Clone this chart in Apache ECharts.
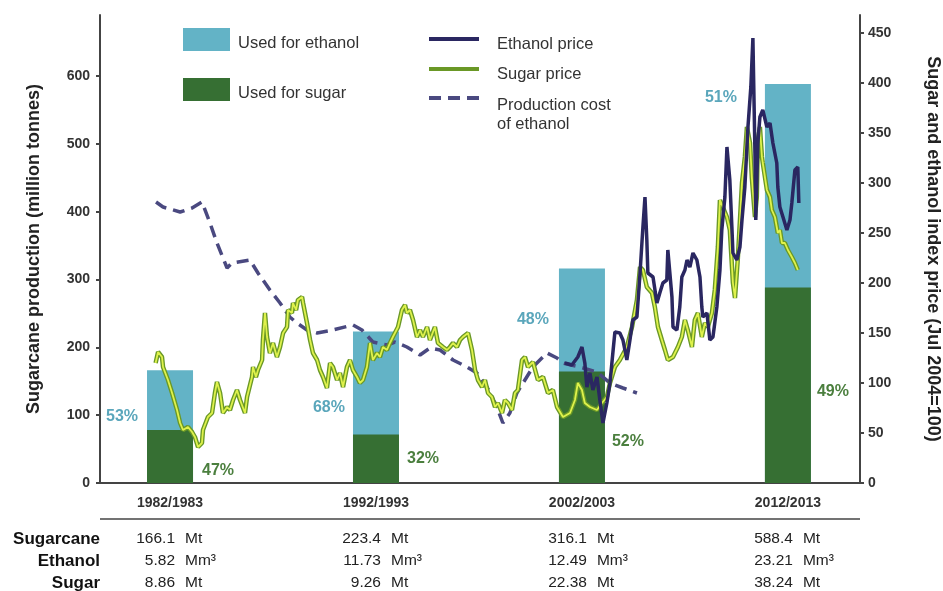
<!DOCTYPE html>
<html>
<head>
<meta charset="utf-8">
<title>Sugarcane production and prices</title>
<script src="https://cdn.jsdelivr.net/npm/echarts@6/dist/echarts.min.js"></script>
<style>
  html, body { margin: 0; padding: 0; background: #fff; }
  #chart { width: 943px; height: 591px; }
</style>
</head>
<body>
<div id="chart"></div>
<script>
// harvest seasons shown as bars
const periods = ['1982/1983', '1992/1993', '2002/2003', '2012/2013']
const periodYears = [1983, 1993, 2003, 2013]
const sugarcaneMt = ['166.1', '223.4', '316.1', '588.4']
const ethanolMm3 = ['5.82', '11.73', '12.49', '23.21']
const sugarMt = ['8.86', '9.26', '22.38', '38.24']
const ethanolSharePct = [53, 68, 48, 51]
const sugarSharePct = [47, 32, 52, 49]

// index prices (Jul 2004 = 100), [year, index]
const sugarPrice = [
  [1982.30, 120], [1982.42, 131], [1982.61, 126], [1982.66, 116], [1982.90, 103], [1983.10, 90],
  [1983.34, 73], [1983.49, 60], [1983.63, 53], [1983.87, 56], [1984.07, 51], [1984.21, 46],
  [1984.36, 36], [1984.55, 40], [1984.60, 53], [1984.84, 66], [1985.04, 70], [1985.18, 90],
  [1985.28, 101], [1985.43, 90], [1985.57, 70], [1985.77, 76], [1985.91, 73], [1986.06, 83],
  [1986.25, 93], [1986.40, 83], [1986.64, 70], [1986.74, 86], [1986.98, 106], [1987.03, 116],
  [1987.17, 106], [1987.27, 113], [1987.47, 123], [1987.51, 143], [1987.61, 170], [1987.71, 146],
  [1987.85, 130], [1988.00, 140], [1988.19, 126], [1988.34, 136], [1988.49, 150], [1988.68, 156],
  [1988.73, 173], [1988.92, 170], [1988.97, 180], [1989.12, 173], [1989.21, 183], [1989.41, 186],
  [1989.46, 180], [1989.65, 160], [1989.80, 143], [1989.94, 130], [1990.14, 123], [1990.28, 113],
  [1990.43, 106], [1990.62, 95], [1990.77, 120], [1990.91, 116], [1991.11, 103], [1991.25, 110],
  [1991.40, 96], [1991.59, 116], [1991.74, 123], [1991.88, 113], [1992.08, 106], [1992.22, 100],
  [1992.37, 103], [1992.56, 116], [1992.71, 140], [1992.85, 123], [1993.05, 130], [1993.19, 126],
  [1993.34, 136], [1993.53, 133], [1993.68, 140], [1993.82, 146], [1994.07, 156], [1994.26, 173],
  [1994.41, 178], [1994.50, 170], [1994.65, 173], [1994.80, 163], [1994.99, 146], [1995.14, 153],
  [1995.28, 146], [1995.48, 156], [1995.62, 143], [1995.86, 156], [1996.01, 140], [1996.25, 136],
  [1996.45, 133], [1996.59, 136], [1996.74, 140], [1996.93, 136], [1997.08, 143], [1997.22, 146],
  [1997.47, 150], [1997.66, 133], [1997.81, 113], [1997.95, 103], [1998.15, 96], [1998.29, 103],
  [1998.44, 90], [1998.63, 86], [1998.78, 76], [1998.92, 80], [1999.12, 70], [1999.26, 83],
  [1999.41, 80], [1999.60, 73], [1999.75, 90], [1999.89, 93], [2000.09, 123], [2000.23, 126],
  [2000.38, 116], [2000.62, 121], [2000.86, 103], [2001.11, 106], [2001.35, 90], [2001.59, 93],
  [2001.79, 76], [2002.08, 66], [2002.42, 70], [2002.66, 83], [2002.80, 100], [2003.00, 93],
  [2003.14, 80], [2003.39, 76], [2003.73, 73], [2003.97, 80], [2004.21, 86], [2004.36, 100],
  [2004.60, 116], [2004.84, 123], [2005.18, 136], [2005.43, 156], [2005.67, 183], [2005.82, 216],
  [2005.96, 213], [2006.15, 196], [2006.40, 190], [2006.54, 176], [2006.69, 156], [2006.88, 143],
  [2007.03, 133], [2007.17, 123], [2007.42, 126], [2007.66, 136], [2007.85, 146], [2008.00, 163],
  [2008.14, 153], [2008.34, 136], [2008.48, 163], [2008.63, 170], [2008.82, 146], [2008.97, 160],
  [2009.11, 156], [2009.31, 170], [2009.45, 193], [2009.60, 236], [2009.70, 283], [2009.84, 276],
  [2010.04, 266], [2010.18, 253], [2010.33, 200], [2010.43, 185], [2010.57, 225], [2010.77, 300],
  [2010.91, 326], [2011.01, 356], [2011.16, 340], [2011.25, 305], [2011.40, 266], [2011.49, 286],
  [2011.54, 343], [2011.64, 356], [2011.74, 326], [2011.78, 320], [2011.98, 293], [2012.13, 286],
  [2012.22, 273], [2012.37, 266], [2012.51, 250], [2012.61, 253], [2012.71, 240], [2012.85, 240],
  [2013.00, 233], [2013.19, 226], [2013.34, 220], [2013.48, 213]
]

const ethanolPrice = [
  [2002.17, 120], [2002.51, 118], [2002.80, 126], [2003.00, 136], [2003.14, 120], [2003.24, 96],
  [2003.39, 110], [2003.53, 93], [2003.73, 106], [2003.87, 83], [2004.02, 60], [2004.21, 80],
  [2004.36, 100], [2004.50, 130], [2004.60, 151], [2004.84, 150], [2004.99, 143], [2005.18, 123],
  [2005.33, 143], [2005.47, 163], [2005.67, 166], [2005.82, 210], [2005.96, 256], [2006.06, 286],
  [2006.15, 243], [2006.20, 210], [2006.45, 206], [2006.64, 180], [2006.78, 190], [2006.93, 200],
  [2007.12, 203], [2007.17, 233], [2007.37, 186], [2007.42, 156], [2007.61, 153], [2007.75, 176],
  [2007.85, 206], [2008.00, 213], [2008.10, 223], [2008.24, 216], [2008.39, 230], [2008.58, 223],
  [2008.73, 206], [2008.82, 176], [2008.87, 166], [2009.07, 170], [2009.21, 143], [2009.36, 146],
  [2009.55, 176], [2009.70, 213], [2009.79, 253], [2009.94, 286], [2010.04, 336], [2010.18, 303],
  [2010.28, 256], [2010.33, 230], [2010.52, 223], [2010.67, 236], [2010.77, 263], [2010.91, 296],
  [2011.06, 356], [2011.20, 396], [2011.30, 445], [2011.40, 330], [2011.44, 263], [2011.54, 340],
  [2011.64, 366], [2011.78, 373], [2011.98, 356], [2012.13, 360], [2012.27, 340], [2012.46, 320],
  [2012.51, 296], [2012.61, 276], [2012.76, 266], [2012.95, 253], [2013.10, 263], [2013.19, 280],
  [2013.34, 313], [2013.48, 316], [2013.53, 280]
]

const productionCost = [
  [1982.32, 281], [1982.66, 276], [1983.49, 271], [1984.07, 275], [1984.55, 281], [1984.94, 260],
  [1985.28, 240], [1985.77, 215], [1986.01, 220], [1986.88, 223], [1987.27, 210], [1987.85, 193],
  [1988.34, 180], [1988.82, 166], [1989.16, 160], [1989.65, 153], [1990.14, 150], [1990.91, 153],
  [1991.88, 158], [1992.32, 153], [1992.85, 141], [1993.53, 138], [1993.92, 141], [1994.50, 136],
  [1995.14, 128], [1995.62, 135], [1996.11, 133], [1996.74, 123], [1997.42, 116], [1997.90, 110],
  [1998.39, 96], [1998.87, 76], [1999.16, 60], [1999.50, 70], [1999.84, 90], [2000.62, 116],
  [2001.30, 130], [2001.79, 125], [2002.08, 120], [2002.90, 116], [2003.73, 111], [2004.36, 100],
  [2004.99, 95], [2005.67, 90]
]

const leftTicks = [0, 100, 200, 300, 400, 500, 600]
const rightTicks = [0, 50, 100, 150, 200, 250, 300, 350, 400, 450]

const FONT = 'Arial, "Liberation Sans", sans-serif'
const BLUE = '#63b3c6'
const GREEN = '#366f33'

// where each percentage sits next to its bar
const ethLabelPos = [{ d: 9, dy: -10 }, { d: 8, dy: 0 }, { d: 10, dy: -56 }, { d: 28, dy: -186 }]
const sugLabelPos = [{ d: 9, dy: 14 }, { d: 8, dy: 0 }, { d: 7, dy: 14 }, { d: 6, dy: 6 }]

const chart = echarts.init(document.getElementById('chart'), null, { renderer: 'canvas' })

function pctLabel (text, pos, side, color) {
  return {
    show: true,
    position: side,
    distance: pos.d,
    offset: [0, pos.dy],
    formatter: text,
    color: color,
    fontFamily: FONT,
    fontWeight: 'bold',
    fontSize: 16
  }
}

// blue bar = whole crop, green bar drawn over it = part used for sugar
function totalBars () {
  return periodYears.map((y, i) => ({
    value: [y, parseFloat(sugarcaneMt[i])],
    label: pctLabel(ethanolSharePct[i] + '%', ethLabelPos[i], 'left', '#5aa6bb')
  }))
}

function sugarBars () {
  return periodYears.map((y, i) => ({
    value: [y, parseFloat(sugarcaneMt[i]) * sugarSharePct[i] / 100],
    label: pctLabel(sugarSharePct[i] + '%', sugLabelPos[i], 'right', '#4b7f3e')
  }))
}

const legendText = { fontSize: 16.5, lineHeight: 19, color: '#333', fontFamily: FONT }

function getOptions () {
  return {
    animation: false,
    textStyle: { fontFamily: FONT },
    grid: { left: 100, right: 83, top: 15, bottom: 108, outerBoundsMode: 'none' },
    legend: [
      {
        data: ['Used for ethanol', 'Used for sugar'],
        orient: 'vertical',
        left: 183,
        top: 26,
        itemWidth: 47,
        itemHeight: 23,
        itemGap: 23,
        icon: 'rect',
        padding: 0,
        formatter: (name) => '{gap| }\n' + name,
        textStyle: Object.assign({ padding: [0, 0, 0, 3], rich: { gap: { lineHeight: 8, fontSize: 1 } } }, legendText)
      },
      {
        data: ['Ethanol price', 'Sugar price'],
        orient: 'vertical',
        left: 427,
        top: 24.5,
        itemWidth: 50,
        itemHeight: 14,
        itemGap: 1,
        padding: 0,
        itemStyle: { opacity: 0 },
        lineStyle: { width: 4 },
        formatter: (name) => '{gap| }\n' + name,
        textStyle: Object.assign({ padding: [0, 0, 0, 13], rich: { gap: { lineHeight: 10, fontSize: 1 } } }, legendText)
      },
      {
        data: ['Production cost of ethanol'],
        orient: 'vertical',
        left: 427,
        top: 62.5,
        itemWidth: 50,
        itemHeight: 14,
        padding: 0,
        itemStyle: { opacity: 0 },
        lineStyle: { width: 4 },
        formatter: () => '{gap| }\nProduction cost\nof ethanol',
        textStyle: Object.assign({ padding: [0, 0, 0, 13], rich: { gap: { lineHeight: 33, fontSize: 1 } } }, legendText)
      }
    ],
    xAxis: {
      type: 'value',
      min: 1979.6,
      max: 2016.5,
      splitLine: { show: false },
      axisTick: { show: false },
      axisLine: { lineStyle: { color: '#444', width: 2 } },
      axisLabel: {
        customValues: periodYears,
        formatter: (v) => periods[periodYears.indexOf(v)] || '',
        margin: 13,
        color: '#333',
        fontWeight: 'bold',
        fontSize: 14,
        fontFamily: FONT
      }
    },
    yAxis: [
      {
        type: 'value',
        min: 0,
        max: 690,
        name: 'Sugarcane production (million tonnes)',
        nameLocation: 'middle',
        nameRotate: 90,
        nameGap: 57,
        nameTextStyle: { fontSize: 18, fontWeight: 'bold', color: '#222', fontFamily: FONT },
        splitLine: { show: false },
        axisLine: { show: true, lineStyle: { color: '#444', width: 2 } },
        axisTick: { show: true, customValues: leftTicks, length: 4, lineStyle: { color: '#444', width: 2 } },
        axisLabel: { customValues: leftTicks, color: '#333', fontWeight: 'bold', fontSize: 14, fontFamily: FONT, margin: 10 }
      },
      {
        type: 'value',
        min: 0,
        max: 468,
        position: 'right',
        name: 'Sugar and ethanol index price (Jul 2004=100)',
        nameLocation: 'middle',
        nameRotate: -90,
        nameGap: 64,
        nameTextStyle: { fontSize: 18, fontWeight: 'bold', color: '#222', fontFamily: FONT },
        splitLine: { show: false },
        axisLine: { show: true, lineStyle: { color: '#444', width: 2 } },
        axisTick: { show: true, customValues: rightTicks, length: 4, lineStyle: { color: '#444', width: 2 } },
        axisLabel: { customValues: rightTicks, color: '#333', fontWeight: 'bold', fontSize: 14, fontFamily: FONT, margin: 8 }
      }
    ],
    series: [
      {
        name: 'Used for ethanol',
        type: 'bar',
        barWidth: 46,
        barGap: '-100%',
        itemStyle: { color: BLUE },
        data: totalBars()
      },
      {
        name: 'Used for sugar',
        type: 'bar',
        barWidth: 46,
        barGap: '-100%',
        itemStyle: { color: GREEN },
        data: sugarBars()
      },
      {
        name: 'Production cost of ethanol',
        type: 'line',
        yAxisIndex: 1,
        symbol: 'none',
        color: '#4a4980',
        lineStyle: { color: '#4a4980', width: 3.5, type: [12, 7] },
        data: productionCost
      },
      {
        name: 'Sugar price',
        type: 'line',
        yAxisIndex: 1,
        symbol: 'none',
        color: '#7fab2c',
        lineStyle: { color: '#6a9826', width: 4.5 },
        data: sugarPrice
      },
      {
        name: 'Sugar price core',
        type: 'line',
        yAxisIndex: 1,
        symbol: 'none',
        silent: true,
        lineStyle: { color: '#dff24c', width: 1.8 },
        data: sugarPrice
      },
      {
        name: 'Ethanol price',
        type: 'line',
        yAxisIndex: 1,
        symbol: 'none',
        color: '#2a2761',
        lineStyle: { color: '#2a2761', width: 3.5 },
        data: ethanolPrice
      }
    ]
  }
}

// table under the axis: one column per season
function getTable () {
  const x0 = chart.convertToPixel({ xAxisIndex: 0 }, 1979.6)
  const x1 = chart.convertToPixel({ xAxisIndex: 0 }, 2016.5)
  const base = chart.convertToPixel({ yAxisIndex: 0 }, 0)
  const rowY = [base + 56, base + 78, base + 100]
  const rows = [
    { name: 'Sugarcane', values: sugarcaneMt, unit: 'Mt' },
    { name: 'Ethanol', values: ethanolMm3, unit: 'Mm³' },
    { name: 'Sugar', values: sugarMt, unit: 'Mt' }
  ]
  const els = [{
    type: 'line',
    shape: { x1: x0, y1: base + 36, x2: x1, y2: base + 36 },
    style: { stroke: '#444', lineWidth: 1.5 }
  }]
  rows.forEach((r, j) => {
    els.push({
      type: 'text',
      style: { text: r.name, x: x0, y: rowY[j], align: 'right', verticalAlign: 'middle', font: 'bold 17px ' + FONT, fill: '#111' }
    })
    periodYears.forEach((yr, i) => {
      const cx = chart.convertToPixel({ xAxisIndex: 0 }, yr)
      els.push({
        type: 'text',
        style: { text: r.values[i], x: cx + 5, y: rowY[j], align: 'right', verticalAlign: 'middle', font: '15.5px ' + FONT, fill: '#222' }
      })
      els.push({
        type: 'text',
        style: { text: r.unit, x: cx + 15, y: rowY[j], align: 'left', verticalAlign: 'middle', font: '15.5px ' + FONT, fill: '#222' }
      })
    })
  })
  return els
}

chart.setOption(getOptions())
chart.setOption({ graphic: getTable() })
</script>
</body>
</html>
